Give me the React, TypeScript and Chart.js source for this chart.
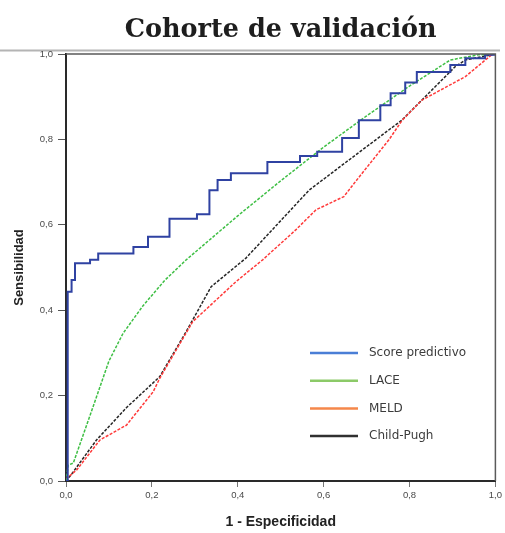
import React, { useEffect, useRef } from "react";
import { Chart, registerables } from "chart.js";

Chart.register(...registerables);

// ROC curves: false positive rate (1 - especificidad) vs sensibilidad
const scoreFpr = [0, 0.004, 0.013, 0.021, 0.056, 0.075, 0.157, 0.191, 0.241, 0.305, 0.334, 0.353, 0.384, 0.469, 0.545, 0.585, 0.643, 0.682, 0.732, 0.756, 0.79, 0.817, 0.895, 0.93, 0.976, 1.0];
const scoreTpr = [0, 0.443, 0.471, 0.51, 0.518, 0.533, 0.548, 0.572, 0.614, 0.625, 0.681, 0.705, 0.721, 0.747, 0.761, 0.771, 0.803, 0.845, 0.88, 0.908, 0.933, 0.958, 0.974, 0.99, 0.998, 1.0];

const laceFpr = [0, 0.005, 0.017, 0.06, 0.1, 0.133, 0.179, 0.23, 0.28, 0.4, 0.5, 0.6, 0.7, 0.8, 0.895, 0.96, 1.0];
const laceTpr = [0, 0.037, 0.042, 0.165, 0.281, 0.346, 0.41, 0.47, 0.518, 0.621, 0.703, 0.782, 0.855, 0.925, 0.986, 0.998, 1.0];

const meldFpr = [0, 0.025, 0.079, 0.141, 0.203, 0.218, 0.295, 0.396, 0.458, 0.535, 0.582, 0.647, 0.674, 0.752, 0.783, 0.829, 0.93, 0.991, 1.0];
const meldTpr = [0.005, 0.026, 0.096, 0.131, 0.209, 0.24, 0.373, 0.467, 0.518, 0.588, 0.635, 0.666, 0.701, 0.799, 0.845, 0.892, 0.947, 0.998, 1.0];

const childFpr = [0, 0.01, 0.071, 0.141, 0.218, 0.28, 0.338, 0.419, 0.566, 0.65, 0.782, 0.906, 0.93, 1.0];
const childTpr = [0, 0.012, 0.096, 0.172, 0.244, 0.35, 0.455, 0.522, 0.681, 0.745, 0.845, 0.97, 0.986, 1.0];

const seriesNames = ["Score predictivo", "LACE", "MELD", "Child-Pugh"];
const lineColors = ["#2f42a2", "#3fbf45", "#ff3a3a", "#262626"];
const legendColors = ["#4a7ed6", "#8cca68", "#f5874a", "#303030"];

const axisTicks = [0, 0.2, 0.4, 0.6, 0.8, 1.0];
const tickText = ["0,0", "0,2", "0,4", "0,6", "0,8", "1,0"];

const chartTitle = "Cohorte de validación";
const xTitle = "1 - Especificidad";
const yTitle = "Sensibilidad";

const toPoints = (xs: number[], ys: number[]) => xs.map((x, i) => ({ x, y: ys[i] }));

const framePlugin = {
  id: "frame",
  beforeDraw(chart: any) {
    const { ctx, chartArea } = chart;
    ctx.save();
    ctx.fillStyle = "#ffffff";
    ctx.fillRect(0, 0, chart.width, chart.height);
    // heading
    ctx.fillStyle = "#1e1e1e";
    ctx.font = "bold 25.5px 'DejaVu Serif'";
    ctx.textAlign = "center";
    ctx.textBaseline = "alphabetic";
    ctx.fillText(chartTitle, (chartArea.left + chartArea.right) / 2, 37);
    // rule under the heading
    ctx.strokeStyle = "#b4b4b4";
    ctx.lineWidth = 2;
    ctx.beginPath();
    ctx.moveTo(0, 50.5);
    ctx.lineTo(500, 50.5);
    ctx.stroke();
    ctx.restore();
  },
  afterDatasetsDraw(chart: any) {
    const { ctx, chartArea } = chart;
    ctx.save();
    // top and right frame of the plot
    ctx.strokeStyle = "#5a5a5a";
    ctx.lineWidth = 1.5;
    ctx.beginPath();
    ctx.moveTo(chartArea.left, chartArea.top);
    ctx.lineTo(chartArea.right, chartArea.top);
    ctx.lineTo(chartArea.right, chartArea.bottom);
    ctx.stroke();
    // legend box inside the plot
    const lx = chartArea.left + 244;
    const ly = 353;
    const gap = 27.7;
    ctx.font = "12px 'DejaVu Sans'";
    ctx.textAlign = "left";
    ctx.textBaseline = "middle";
    chart.data.datasets.forEach((ds: any, i: number) => {
      const y = ly + i * gap;
      ctx.strokeStyle = legendColors[i];
      ctx.lineWidth = 2.5;
      ctx.setLineDash([]);
      ctx.beginPath();
      ctx.moveTo(lx, y);
      ctx.lineTo(lx + 48, y);
      ctx.stroke();
      ctx.fillStyle = "#3c3c3c";
      ctx.fillText(ds.label, lx + 59, y);
    });
    ctx.restore();
  },
};

export default function App() {
  const canvasRef = useRef<HTMLCanvasElement | null>(null);

  useEffect(() => {
    document.body.style.margin = "0";
    const canvas = canvasRef.current!;
    const dashed = [3, 1.5];
    const chart = new Chart(canvas, {
      type: "line",
      data: {
        datasets: [
          {
            label: seriesNames[0],
            data: toPoints(scoreFpr, scoreTpr),
            borderColor: lineColors[0],
            borderWidth: 2,
            stepped: "before",
            pointRadius: 0,
            fill: false,
          },
          {
            label: seriesNames[1],
            data: toPoints(laceFpr, laceTpr),
            borderColor: lineColors[1],
            borderWidth: 1.5,
            borderDash: dashed,
            pointRadius: 0,
            fill: false,
          },
          {
            label: seriesNames[2],
            data: toPoints(meldFpr, meldTpr),
            borderColor: lineColors[2],
            borderWidth: 1.5,
            borderDash: dashed,
            pointRadius: 0,
            fill: false,
          },
          {
            label: seriesNames[3],
            data: toPoints(childFpr, childTpr),
            borderColor: lineColors[3],
            borderWidth: 1.5,
            borderDash: dashed,
            pointRadius: 0,
            fill: false,
          },
        ],
      },
      options: {
        responsive: false,
        animation: false,
        layout: { padding: { top: 54, right: 8, left: 0, bottom: 0 } },
        plugins: {
          legend: { display: false },
          tooltip: { enabled: false },
          title: { display: false },
        },
        scales: {
          x: {
            type: "linear",
            min: 0,
            max: 1,
            afterBuildTicks: (scale: any) => {
              scale.ticks = axisTicks.map((v) => ({ value: v }));
            },
            afterFit: (scale: any) => {
              scale.height = 52;
            },
            ticks: {
              callback: (_v: any, i: number) => tickText[i],
              font: { family: "'Liberation Sans'", size: 9.5 },
              color: "#4a4a4a",
              padding: 3,
              maxRotation: 0,
            },
            grid: { drawOnChartArea: false, tickLength: 6, color: "#777", tickWidth: 1 },
            border: { color: "#2a2a2a", width: 2 },
            title: {
              display: true,
              text: xTitle,
              font: { family: "'Liberation Sans'", size: 14, weight: "bold" },
              color: "#222",
              padding: { top: 0, bottom: 2 },
            },
          },
          y: {
            type: "linear",
            min: 0,
            max: 1,
            afterBuildTicks: (scale: any) => {
              scale.ticks = axisTicks.map((v) => ({ value: v }));
            },
            afterFit: (scale: any) => {
              scale.width = 66;
            },
            ticks: {
              callback: (_v: any, i: number) => tickText[i],
              font: { family: "'Liberation Sans'", size: 9.5 },
              color: "#4a4a4a",
              padding: 5,
            },
            grid: { drawOnChartArea: false, tickLength: 8, color: "#555", tickWidth: 1 },
            border: { color: "#2a2a2a", width: 2 },
            title: {
              display: true,
              text: yTitle,
              font: { family: "'Liberation Sans'", size: 13, weight: "bold" },
              color: "#222",
              padding: { top: 12, bottom: 0 },
            },
          },
        },
      },
      plugins: [framePlugin],
    });
    return () => chart.destroy();
  }, []);

  return (
    <div style={{ width: 505, height: 533 }}>
      <canvas ref={canvasRef} width={505} height={533} style={{ display: "block" }} />
    </div>
  );
}
